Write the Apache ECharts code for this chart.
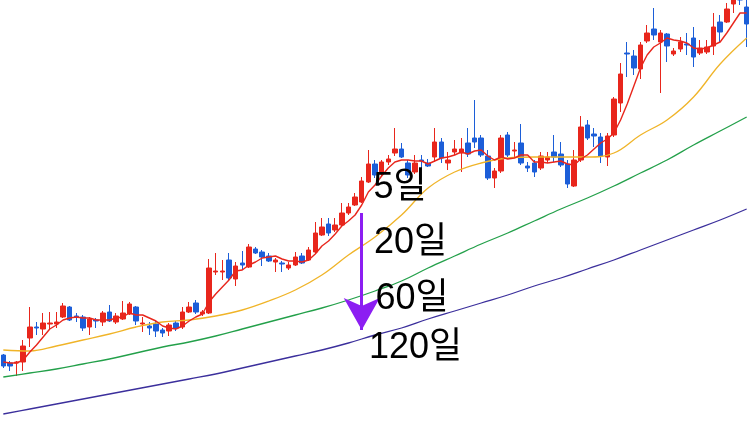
<!DOCTYPE html>
<html><head><meta charset="utf-8">
<script src="https://cdn.jsdelivr.net/npm/echarts@6/dist/echarts.min.js"></script>
<style>html,body{margin:0;padding:0;background:#fff}#c{width:750px;height:422px}</style>
</head><body><div id="c"></div>
<script>
// candle data: [open, close, low, high] (arbitrary price units)
const candles = [
[145,134,132,146],[137,134,129,139],[137,138,124,139],[138,154,129,160],[162,173,153,193],
[173,172,165,178],[171,177,165,187],[176,177,170,188],[176,178,172,188],[183,194,182,197],
[193,180,179,194],[184,183,178,187],[183,172,169,185],[173,181,165,183],[180,179,172,182],
[178,187,174,189],[188,179,178,195],[178,184,176,187],[181,187,180,199],[186,196,185,198],
[193,179,175,194],[176,177,168,183],[174,172,165,178],[176,169,163,179],[170,167,163,172],
[169,175,164,177],[177,172,169,179],[173,188,171,193],[188,193,187,198],[197,188,186,200],
[186,188,184,190],[187,232,186,241],[228,229,225,247],[228,229,220,240],[240,222,220,247],
[221,234,214,238],[237,235,230,249],[233,253,232,256],[251,247,246,253],[248,243,234,250],
[244,239,238,247],[238,240,228,242],[237,236,228,239],[232,235,230,238],[235,243,234,248],
[244,237,236,247],[240,250,239,253],[248,267,247,278],[265,273,264,282],[276,267,264,282],
[270,275,268,282],[275,287,274,297],[287,293,285,297],[295,303,294,307],[298,319,297,323],
[318,336,317,350],[336,325,322,340],[326,338,324,340],[338,341,335,345],[347,351,344,372],
[351,343,342,357],[337,325,322,340],[328,337,326,345],[340,339,330,345],[337,334,333,341],
[343,358,338,372],[358,342,337,362],[337,340,330,348],[348,351,345,360],[347,351,328,362],
[357,346,343,372],[362,358,352,400],[362,345,343,365],[344,322,320,350],[322,329,312,332],
[329,362,327,365],[365,345,343,368],[349,350,342,358],[357,337,335,376],[334,332,328,338],
[337,328,323,340],[332,344,330,348],[340,343,337,348],[348,343,338,365],[346,335,333,358],
[336,316,312,340],[314,340,313,350],[340,373,338,384],[375,362,360,380],[366,364,353,372],
[363,344,337,367],[343,364,334,367],[365,401,363,403],[397,426,388,437],[447,446,423,458],
[444,432,425,450],[431,455,421,458],[459,467,457,475],[471,465,460,492],[458,467,407,470],
[466,454,438,467],[446,449,444,452],[451,458,448,463],[456,455,445,467],[462,443,433,473],
[447,452,445,460],[448,453,446,460],[454,473,445,487],[478,468,458,485],[478,491,477,497],
[496,501,487,503],[503,500,495,505],[493,476,453,502]
];
const days = candles.map((_, i) => 'D' + (i + 1));

const ma5 = [138,137,137,140,148,155,163,171,175,180,182,183,182,182,180,180,180,182,183,187,
185,185,182,179,174,172,171,174,179,183,186,198,206,213,220,229,230,235,238,242,
243,244,241,239,239,238,240,246,254,259,266,274,279,285,295,308,315,324,332,338,
340,340,339,339,336,339,342,343,345,348,346,349,350,344,340,343,341,342,345,345,
338,338,337,338,339,336,335,341,345,351,357,361,367,380,396,414,432,445,453,457,
462,460,459,457,452,451,452,455,458,467,477,487,487];

// longer averages read every 4th session
const maDays = [0,4,8,12,16,20,24,28,32,36,40,44,48,52,56,60,64,68,72,76,80,84,88,92,96,100,104,108,112];
const ma20  = [150,149,154,160,166,173,178,180,184,190,199,210,225,245,263,285,312,328,337,342,343,343,343,347,365,380,403,436,462];
const ma60  = [123,127,131,136,141,147,153,158,164,171,178,185,192,200,209,219,232,244,256,267,279,291,302,314,327,340,355,369,383];
const ma120 = [86,91,96,101,106,111,116,121,126,132,138,144,150,157,165,172,181,189,197,205,214,222,231,240,250,260,270,280,291];

const maLabels = ['5일', '20일', '60일', '120일'];
const arrowDay = 54, arrowFrom = 287, arrowTo = 170;

const pairs = (vals) => vals.map((v, k) => [maDays[k], v]);
const RED = '#e8261c', BLUE = '#1c5ed8';

const chart = echarts.init(document.getElementById('c'), null, {renderer: 'canvas'});
const lineS = (name, data, color, smooth, w) => ({
  name, type: 'line', data, symbol: 'none', smooth: smooth, z: 3,
  lineStyle: {color, width: w}, animation: false
});
const labelTops = [170.5, 225, 281, 330];
const labelLefts = [373.5, 374, 375.5, 369];
chart.setOption({
  animation: false,
  backgroundColor: '#ffffff',
  grid: {left: -2.3, right: -1.4, top: 0, bottom: 0},
  xAxis: {type: 'category', data: days, boundaryGap: true, show: false},
  yAxis: {type: 'value', min: 78, max: 500, show: false, splitLine: {show: false}},
  series: [
    lineS('120', pairs(ma120), '#3b2f9c', 0.4, 1.3),
    lineS('60', pairs(ma60), '#23a04a', 0.4, 1.3),
    lineS('20', pairs(ma20), '#f0b428', 0.4, 1.3),
    {
      type: 'candlestick', data: candles, barWidth: 5, z: 2,
      itemStyle: {color: RED, color0: BLUE, borderColor: RED, borderColor0: BLUE, borderWidth: 1},
      markLine: {
        silent: true, symbol: ['none', 'arrow'], symbolSize: [27, 32],
        label: {show: false},
        lineStyle: {color: '#8c1ef2', width: 3, type: 'solid'},
        data: [[{coord: [arrowDay, arrowFrom]}, {coord: [arrowDay, arrowTo]}]]
      }
    },
    lineS('5', ma5, '#e8261c', false, 1.4)
  ],
  graphic: maLabels.map((t, i) => ({
    type: 'text', left: labelLefts[i], top: labelTops[i], z: 10,
    style: {text: t, fill: '#000', font: '36px "Liberation Sans", "Noto Sans CJK KR", sans-serif'}
  }))
});
</script></body></html>
